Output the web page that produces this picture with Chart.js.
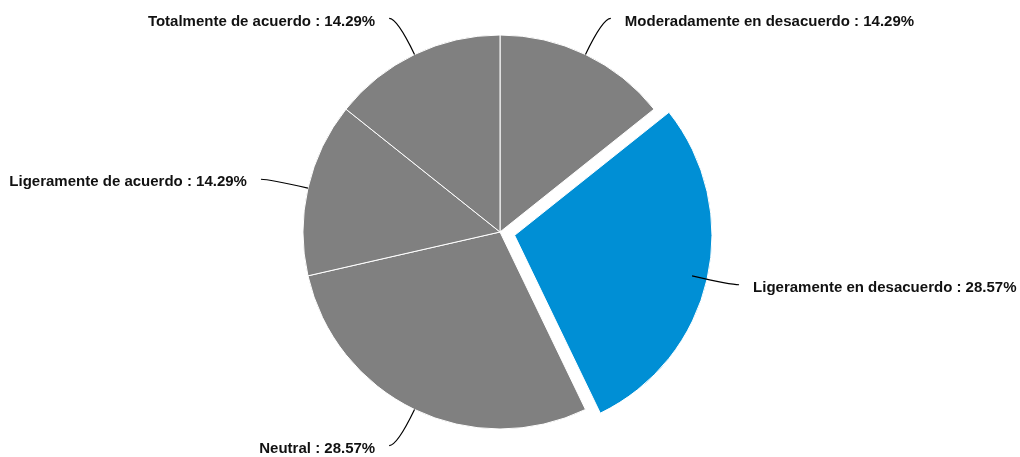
<!DOCTYPE html>
<html lang="es">
<head>
    <meta charset="UTF-8">
    <title>Pie chart</title>
    <style>
        body {
            margin: 0;
            background-color: #fff;
        }

        #chart-container {
            width: 1020px;
            height: 457px;
        }
    </style>
</head>
<body>
    <div id="chart-container">
        <canvas id="pie-chart"></canvas>
    </div>

    <script src="https://cdn.jsdelivr.net/npm/chart.js"></script>

    <script>
        const categories = [
            "Moderadamente en desacuerdo",
            "Ligeramente en desacuerdo",
            "Neutral",
            "Ligeramente de acuerdo",
            "Totalmente de acuerdo"
        ];
        const counts = [1, 2, 2, 1, 1];
        const percentLabels = ["14.29%", "28.57%", "28.57%", "14.29%", "14.29%"];
        const sliceColors = ["#808080", "#008fd5", "#808080", "#808080", "#808080"];
        // Chart.js moves an arc by offset / 4, so 60 -> ~15px
        const sliceOffsets = [0, 60, 0, 0, 0];

        // draws the outside labels with curved leader lines
        const leaderLabels = {
            id: 'leaderLabels',
            afterDatasetsDraw(chart) {
                const ctx = chart.ctx;
                const meta = chart.getDatasetMeta(0);
                ctx.save();
                ctx.font = 'bold 15px "Liberation Sans", Arial, sans-serif';
                ctx.strokeStyle = '#000';
                ctx.lineWidth = 1.2;
                ctx.fillStyle = '#111';
                ctx.textBaseline = 'middle';

                meta.data.forEach((arc, i) => {
                    const p = arc.getProps(['startAngle', 'endAngle', 'outerRadius'], true);
                    const mid = (p.startAngle + p.endAngle) / 2;
                    // use the un-offset centre
                    const cx = chart.chartArea.left + chart.chartArea.width / 2;
                    const cy = chart.chartArea.top + chart.chartArea.height / 2;
                    const r = p.outerRadius;
                    const cos = Math.cos(mid), sin = Math.sin(mid);
                    const x0 = cx + r * cos, y0 = cy + r * sin;
                    const x1 = cx + (r + 40) * cos, y1 = cy + (r + 40) * sin;
                    const right = cos >= 0;
                    const x2 = x1 + (right ? 8 : -8);

                    ctx.beginPath();
                    ctx.moveTo(x0, y0);
                    ctx.quadraticCurveTo(x1, y1, x2, y1);
                    ctx.stroke();

                    ctx.textAlign = right ? 'left' : 'right';
                    const text = categories[i] + ' : ' + percentLabels[i];
                    ctx.fillText(text, x2 + (right ? 14 : -14), y1 + 3);
                });
                ctx.restore();
            }
        };

        const ctx = document.getElementById('pie-chart').getContext('2d');
        new Chart(ctx, {
            type: 'pie',
            data: {
                labels: categories,
                datasets: [{
                    data: counts,
                    backgroundColor: sliceColors,
                    borderColor: '#fff',
                    borderWidth: 1,
                    offset: sliceOffsets
                }]
            },
            options: {
                responsive: true,
                maintainAspectRatio: false,
                animation: false,
                radius: 197,
                layout: {
                    padding: { left: 0, right: 20, top: 7, bottom: 0 }
                },
                plugins: {
                    legend: { display: false },
                    tooltip: { enabled: false }
                },
                events: []
            },
            plugins: [leaderLabels]
        });
    </script>
</body>
</html>
